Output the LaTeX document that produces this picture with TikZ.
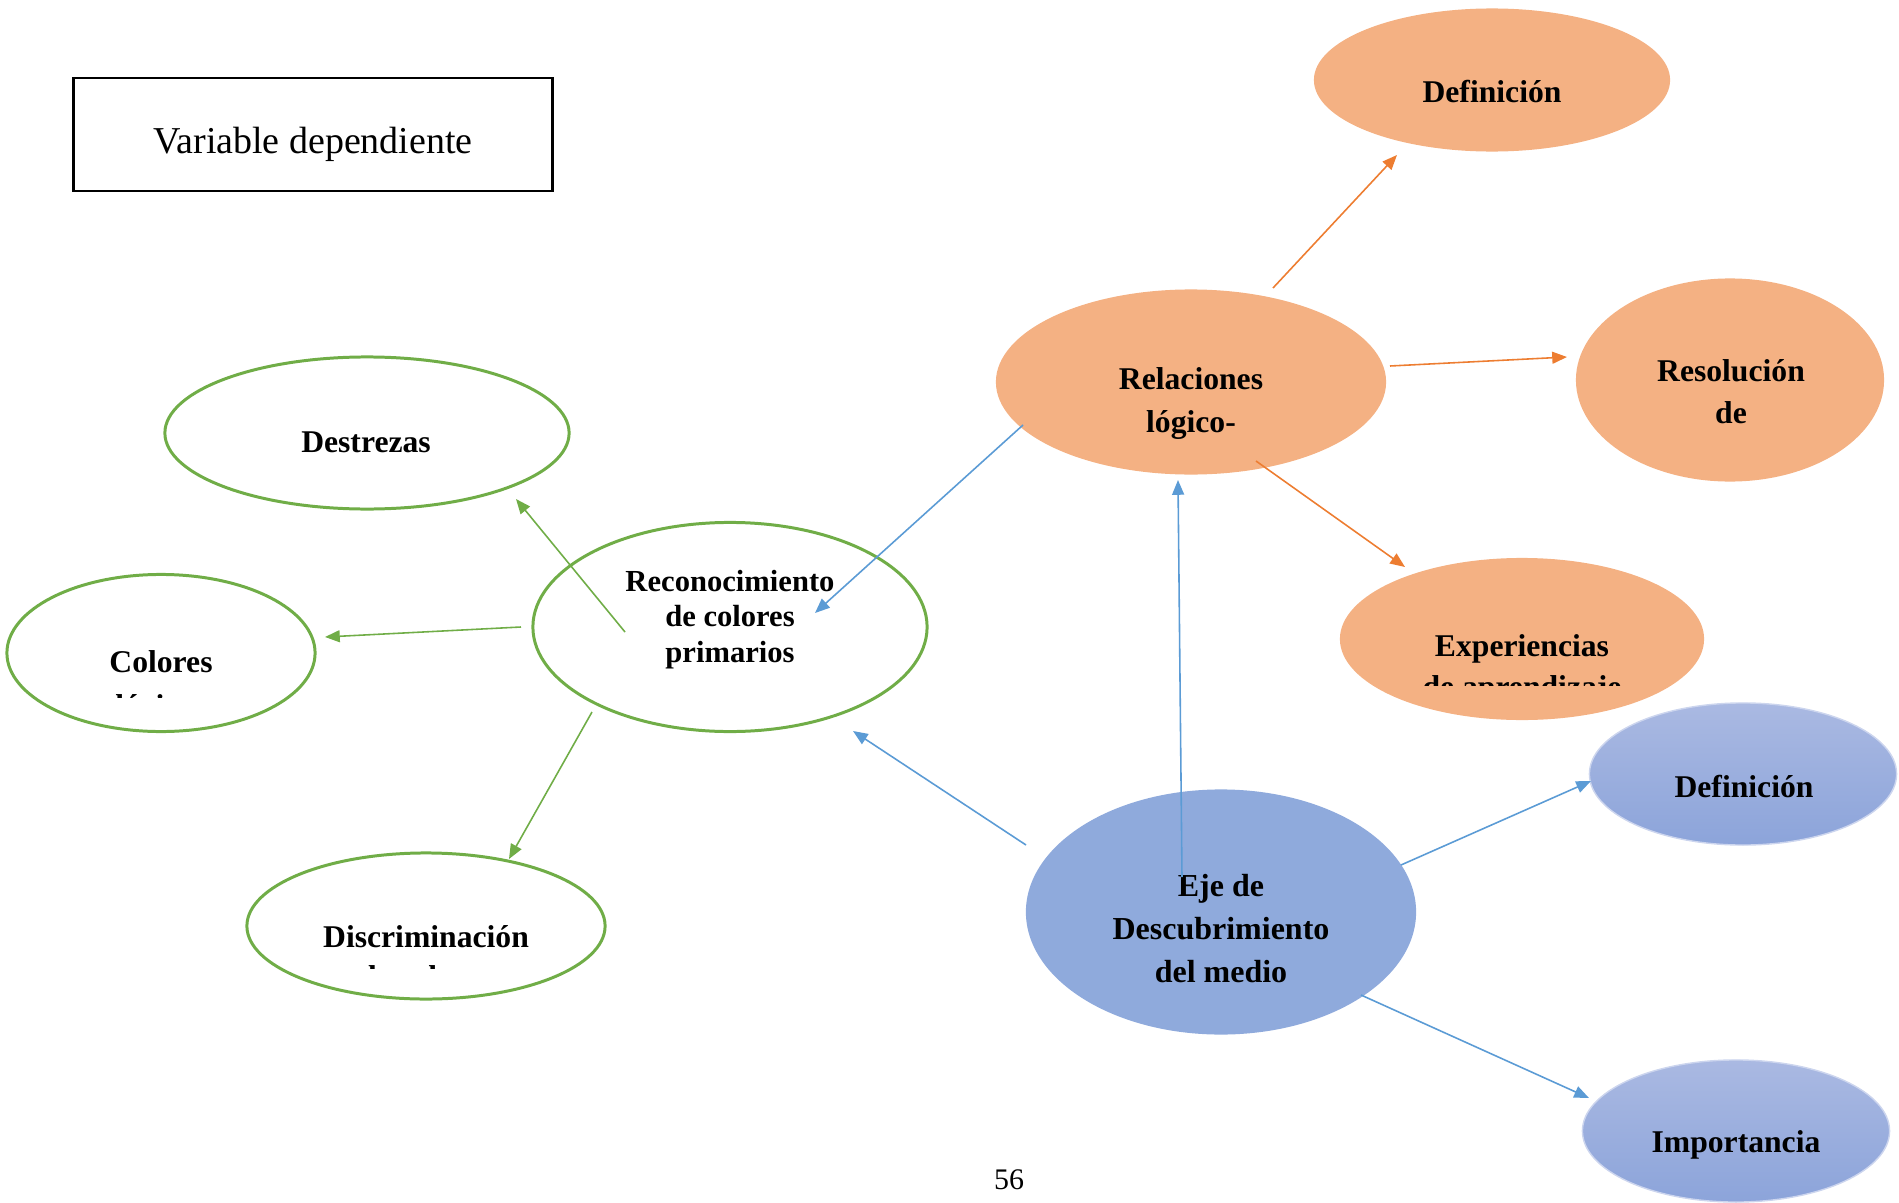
\documentclass[tikz,border=0pt]{standalone}
\usepackage{fontspec}
\setmainfont{Liberation Serif}
\usetikzlibrary{shapes.geometric,arrows.meta}
\definecolor{accorange}{HTML}{F4B183}
\definecolor{arrorange}{HTML}{ED7D31}
\definecolor{accblue}{HTML}{8FAADC}
\definecolor{arrblue}{HTML}{5B9BD5}
\definecolor{accgreen}{HTML}{70AD47}
\definecolor{bluetop}{HTML}{AAB9E2}
\definecolor{bluebot}{HTML}{8CA4DA}

\begin{document}
\begin{tikzpicture}[x=0.01cm, y=-0.01cm,
  oval/.style={ellipse, inner sep=0pt},
  orangeoval/.style={oval, fill=accorange},
  blueoval/.style={oval, fill=accblue},
  shadeoval/.style={oval, top color=bluetop, bottom color=bluebot, draw=bluetop!60!white, line width=0.4pt},
  greenoval/.style={oval, draw=accgreen, line width=0.85pt, fill=white},
  lbl/.style={font=\fontsize{9}{12}\selectfont\bfseries, align=center, inner sep=0pt},
  arr/.style={-{Triangle[length=4.2pt,width=3.4pt]}, line width=0.45pt},
  orangearr/.style={arr, draw=arrorange, fill=arrorange},
  bluearr/.style={arr, draw=arrblue, fill=arrblue},
  greenarr/.style={arr, draw=accgreen, fill=accgreen}
]
\useasboundingbox (0,0) rectangle (1899,1203);

% title box
\node[draw, line width=0.8pt, minimum width=4.78cm, minimum height=1.13cm, inner sep=0pt] (vd) at (313,134.5) {};
\node[font=\fontsize{10.8}{12}\selectfont, anchor=base, inner sep=0pt] (vdt) at (313,153) {Variable dependiente};

% orange branch
\node[orangeoval, minimum width=3.56cm, minimum height=1.43cm] (defo) at (1492,80) {};
\node[orangeoval, minimum width=3.90cm, minimum height=1.85cm] (rel) at (1191,382) {};
\node[orangeoval, minimum width=3.08cm, minimum height=2.03cm] (res) at (1730,380) {};
\node[orangeoval, minimum width=3.64cm, minimum height=1.62cm] (exp) at (1522,639) {};
\node[lbl, anchor=base] (defot) at (1492,102) {Definición};
\node[lbl] (relt) at (1191,403.5) {Relaciones\\lógico-};
\node[lbl] (rest) at (1731,392) {Resolución\\de};
\begin{scope}
  \clip (1340,560) rectangle (1704,685);
  \node[lbl, font=\fontsize{9}{11.7}\selectfont\bfseries] (expt) at (1522,669) {Experiencias\\de aprendizaje};
\end{scope}

% blue branch
\node[shadeoval, minimum width=3.07cm, minimum height=1.42cm] (defb) at (1743,774) {};
\node[shadeoval, minimum width=3.07cm, minimum height=1.42cm] (imp) at (1736,1131) {};
\node[blueoval, minimum width=3.90cm, minimum height=2.45cm] (eje) at (1221,912) {};
\node[lbl, anchor=base] (defbt) at (1744,797) {Definición};
\node[lbl, anchor=base] (impt) at (1736,1152) {Importancia};
\node[lbl, font=\fontsize{9.1}{12.1}\selectfont\bfseries] (ejet) at (1221,928.5) {Eje de\\Descubrimiento\\del medio};

% green branch
\node[greenoval, minimum width=3.94cm, minimum height=2.09cm] (rec) at (730,627) {};
\node[greenoval, minimum width=4.04cm, minimum height=1.52cm] (des) at (367,433) {};
\node[greenoval, minimum width=3.08cm, minimum height=1.57cm] (col) at (161,653) {};
\node[greenoval, minimum width=3.58cm, minimum height=1.46cm] (dis) at (426,926) {};
\node[lbl, font=\fontsize{8.7}{10.1}\selectfont\bfseries] (rect) at (730,619.3) {Reconocimiento\\de colores\\primarios};
\node[lbl, anchor=base] (dest) at (366,452) {Destrezas};
\begin{scope}
  \clip (20,600) rectangle (300,697);
  \node[lbl, font=\fontsize{9}{12.3}\selectfont\bfseries] (colt) at (161,687) {Colores\\lógicos};
\end{scope}
\begin{scope}
  \clip (260,880) rectangle (590,968);
  \node[lbl, font=\fontsize{9}{11.5}\selectfont\bfseries] (dist) at (426,956.5) {Discriminación\\de colores};
\end{scope}

% arrow ends
\coordinate (o1s) at (1273,288); \coordinate (o1e) at (1397,155);
\coordinate (o2s) at (1390,366); \coordinate (o2e) at (1567,357);
\coordinate (o3s) at (1256,461); \coordinate (o3e) at (1405,567);
\coordinate (b1s) at (1023,425); \coordinate (b1e) at (815,613);
\coordinate (b2s) at (1026,845); \coordinate (b2e) at (853,731);
\coordinate (b3s) at (1182,877); \coordinate (b3e) at (1178,480);
\coordinate (b4s) at (1401,865); \coordinate (b4e) at (1591,781);
\coordinate (b5s) at (1361,995); \coordinate (b5e) at (1589,1098);
\coordinate (g1s) at (625,632);  \coordinate (g1e) at (516,499);
\coordinate (g2s) at (521,627);  \coordinate (g2e) at (325,637);
\coordinate (g3s) at (592,712);  \coordinate (g3e) at (509,859);

\draw[orangearr] (o1s) -- (o1e);
\draw[orangearr] (o2s) -- (o2e);
\draw[orangearr] (o3s) -- (o3e);
\draw[bluearr] (b1s) -- (b1e);
\draw[bluearr] (b2s) -- (b2e);
\draw[bluearr] (b3s) -- (b3e);
\draw[bluearr] (b4s) -- (b4e);
\draw[bluearr] (b5s) -- (b5e);
\draw[greenarr] (g1s) -- (g1e);
\draw[greenarr] (g2s) -- (g2e);
\draw[greenarr] (g3s) -- (g3e);

% page number
\node[font=\fontsize{8.5}{10}\selectfont, anchor=base, inner sep=0pt] (pg) at (1009,1189) {56};
\end{tikzpicture}
\end{document}
